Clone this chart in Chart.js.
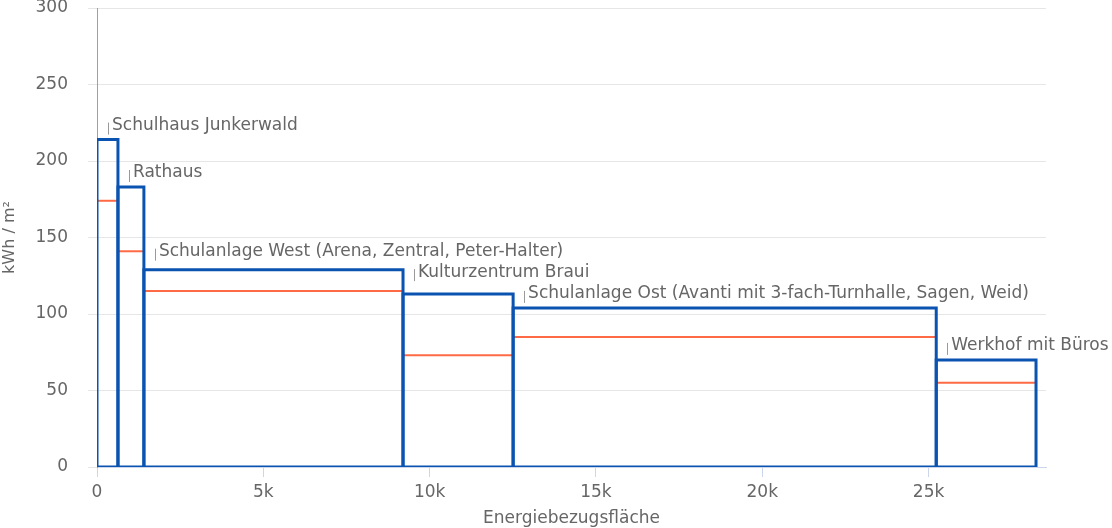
<!DOCTYPE html>
<html>
<head>
<meta charset="utf-8">
<script src="https://cdn.jsdelivr.net/npm/chart.js@4/dist/chart.umd.min.js"></script>
<style>
  html, body { margin: 0; padding: 0; background: #fff; }
  #wrap { width: 1112px; height: 528px; }
</style>
</head>
<body>
<div id="wrap"><canvas id="chart" width="1112" height="528"></canvas></div>
<script>
// buildings, their floor area (Energiebezugsfläche, m²) and energy use (kWh/m²)
var buildings = [
    'Schulhaus Junkerwald',
    'Rathaus',
    'Schulanlage West (Arena, Zentral, Peter-Halter)',
    'Kulturzentrum Braui',
    'Schulanlage Ost (Avanti mit 3-fach-Turnhalle, Sagen, Weid)',
    'Werkhof mit Büros'
]
var areas = [630, 780, 7790, 3310, 12720, 3000]
var consumption = [214, 183, 129, 113, 104, 70]
var target = [174, 141, 115, 73, 85, 55]
var yTicks = [0, 50, 100, 150, 200, 250, 300]
var xTicks = [0, 5000, 10000, 15000, 20000, 25000]

var blue = '#0a53b0'
var red = '#fd6a45'
var gray = '#666666'
var font = "'DejaVu Sans', sans-serif"
var fontSize = 17

// start position of each building on the x axis
var starts = []
var pos = 0
areas.forEach(function(a){
    starts.push(pos)
    pos += a
})
var xMax = 28530

var datasets = []
buildings.forEach(function(name, i){
    var x0 = starts[i], x1 = starts[i] + areas[i]
    datasets.push({
        label: name,
        data: [{x: x0, y: 0}, {x: x0, y: consumption[i]}, {x: x1, y: consumption[i]}, {x: x1, y: 0}, {x: x0, y: 0}],
        borderColor: blue,
        borderWidth: 3,
        showLine: true,
        pointRadius: 0,
        order: 0
    })
    datasets.push({
        label: name + ' Ziel',
        data: [{x: x0, y: target[i]}, {x: x1, y: target[i]}],
        borderColor: red,
        borderWidth: 2,
        showLine: true,
        pointRadius: 0,
        order: 1
    })
})

// extra lift for labels that sit higher in the picture
var labelLift = [0, 0, 4, 8, 0, 0]

var barLabels = {
    id: 'barLabels',
    afterDatasetsDraw: function(chart){
        var c = chart.ctx
        var xs = chart.scales.x, ys = chart.scales.y
        c.save()
        c.font = fontSize + 'px ' + font
        c.fillStyle = gray
        c.textBaseline = 'middle'
        c.strokeStyle = '#999999'
        c.lineWidth = 1
        buildings.forEach(function(name, i){
            var left = xs.getPixelForValue(starts[i])
            var top = ys.getPixelForValue(consumption[i])
            var mid = top - 14 - labelLift[i]
            var lx = Math.round(left + 11) + 0.5
            c.beginPath()
            c.moveTo(lx, mid + 9)
            c.lineTo(lx, mid - 3)
            c.stroke()
            c.fillText(name, left + 15, mid)
        })
        c.restore()
    }
}

var ctx = document.getElementById('chart').getContext('2d')
var chart = new Chart(ctx, {
    type: 'scatter',
    data: { datasets: datasets },
    plugins: [barLabels],
    options: {
        responsive: false,
        animation: false,
        layout: { padding: { top: 8, right: 66, left: 0, bottom: 0 } },
        plugins: {
            legend: { display: false },
            tooltip: { enabled: false }
        },
        scales: {
            x: {
                type: 'linear',
                min: 0,
                max: xMax,
                afterFit: function(scale){
                    scale.height = 61
                    scale.paddingLeft = 0
                    scale.paddingRight = 0
                },
                afterBuildTicks: function(scale){
                    scale.ticks = xTicks.map(function(v){ return {value: v} })
                },
                ticks: {
                    autoSkip: false,
                    padding: 5,
                    color: gray,
                    font: { family: font, size: fontSize },
                    maxRotation: 0,
                    callback: function(v){ return v === 0 ? '0' : (v / 1000) + 'k' }
                },
                grid: {
                    drawOnChartArea: false,
                    drawTicks: true,
                    tickLength: 10,
                    color: '#ccd6eb'
                },
                border: { color: '#ccd6eb', width: 1 },
                title: {
                    display: true,
                    text: 'Energiebezugsfläche',
                    color: gray,
                    font: { family: font, size: fontSize },
                    padding: { top: 0, bottom: -1 }
                }
            },
            y: {
                min: 0,
                max: 300,
                afterFit: function(scale){
                    scale.width = 97
                    scale.paddingTop = 0
                    scale.paddingBottom = 0
                },
                afterBuildTicks: function(scale){
                    scale.ticks = yTicks.map(function(v){ return {value: v} })
                },
                ticks: {
                    autoSkip: false,
                    padding: 20,
                    color: gray,
                    font: { family: font, size: fontSize }
                },
                grid: {
                    color: '#e6e6e6',
                    drawTicks: true,
                    tickLength: 9
                },
                border: { color: '#a0a0a0', width: 1 },
                title: {
                    display: true,
                    text: 'kWh / m²',
                    color: gray,
                    font: { family: font, size: 16 },
                    padding: { top: 0, bottom: 0 }
                }
            }
        }
    }
})
</script>
</body>
</html>
